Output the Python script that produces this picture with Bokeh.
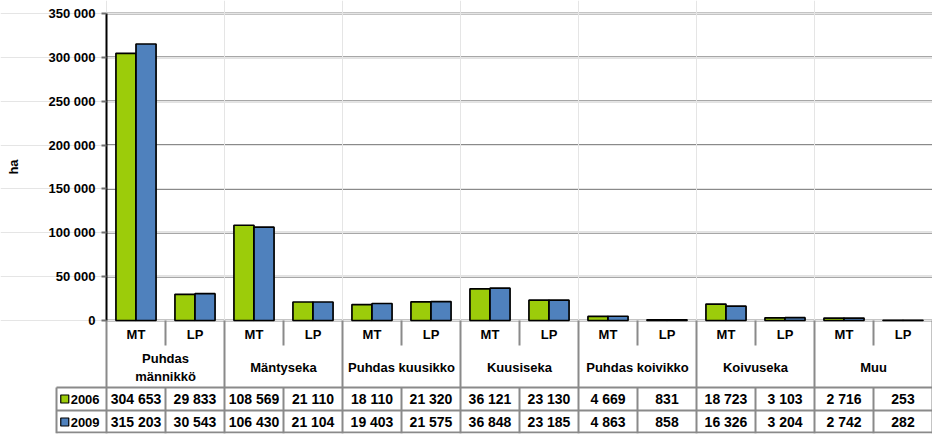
from bokeh.plotting import figure
from bokeh.models import Range1d, LinearAxis, FixedTicker, CustomJSTickFormatter, ColumnDataSource
from bokeh.core.properties import value
from bokeh.embed import file_html
from bokeh.resources import INLINE

# ---- data ----
groups = ["Puhdas\nmännikkö", "Mäntyseka", "Puhdas kuusikko", "Kuusiseka",
          "Puhdas koivikko", "Koivuseka", "Muu"]
site_types = ["MT", "LP"]
years = ["2006", "2009"]
ha_2006 = [304653, 29833, 108569, 21110, 18110, 21320, 36121, 23130,
           4669, 831, 18723, 3103, 2716, 253]
ha_2009 = [315203, 30543, 106430, 21104, 19403, 21575, 36848, 23185,
           4863, 858, 16326, 3204, 2742, 282]
y_ticks = [0, 50000, 100000, 150000, 200000, 250000, 300000, 350000]

# ---- style / layout ----
GREEN = "#9ccc0a"
BLUE = "#4f81bd"
GRID = "#8a8a8a"
FONT = "Liberation Sans"

n = len(ha_2006)
LEFT_W = 106 / 59                 # space left of the y axis (in column units)
LEG_W = 50 / 59                   # width of the legend column (in column units)
FRAME_H = 433                     # frame height in px (frame starts at top of canvas)
TOP_PX = 13                       # px where the top tick sits
ZERO_PX = 320                     # px where value 0 sits
Y_MAX = y_ticks[-1]
UPP = Y_MAX / (ZERO_PX - TOP_PX)  # value units per pixel
Y_TOP = Y_MAX + TOP_PX * UPP
Y_BOT = -(FRAME_H - ZERO_PX) * UPP

p = figure(width=932, height=434,
           x_range=Range1d(-LEFT_W, n), y_range=Range1d(Y_BOT, Y_TOP),
           output_backend="svg", toolbar_location=None,
           x_axis_location=None, y_axis_location=None,
           min_border_left=0, min_border_right=0, min_border_top=0, min_border_bottom=1,
           outline_line_color=None, background_fill_color="white")
p.extra_y_ranges = {"tbl": Range1d(FRAME_H, 0)}

# y axis fixed at x = 0
yax = LinearAxis(fixed_location=0, bounds=(0, Y_MAX),
                 ticker=FixedTicker(ticks=y_ticks),
                 formatter=CustomJSTickFormatter(
                     code="return tick.toString().replace(/\\B(?=(\\d{3})+(?!\\d))/g, ' ');"),
                 axis_label="ha")
yax.axis_line_color = "black"
yax.axis_line_width = 2
yax.major_tick_out = 5
yax.major_tick_in = 0
yax.major_tick_line_color = "#707070"
yax.major_tick_line_width = 2
yax.minor_tick_out = 0
yax.minor_tick_in = 0
yax.major_label_standoff = 6
yax.major_label_text_font = FONT
yax.major_label_text_font_style = "bold"
yax.major_label_text_font_size = "13px"
yax.major_label_text_color = "black"
yax.axis_label_text_font = FONT
yax.axis_label_text_font_style = "bold"
yax.axis_label_text_font_size = "13px"
yax.axis_label_text_color = "black"
yax.axis_label_standoff = 25
p.add_layout(yax, "left")

# horizontal gridlines (from y axis to right edge)
p.segment(x0=[0] * len(y_ticks), y0=y_ticks, x1=[n] * len(y_ticks), y1=y_ticks,
          line_color=GRID, line_width=2, level="underlay")

# bars
xc = [i + 0.5 for i in range(n)]
src = ColumnDataSource(dict(
    x06=[x - 0.17 for x in xc], x09=[x + 0.17 for x in xc],
    v06=ha_2006, v09=ha_2009))
p.vbar(x="x06", top="v06", bottom=0, width=0.34, source=src,
       fill_color=GREEN, line_color="black", line_width=1.7)
p.vbar(x="x09", top="v09", bottom=0, width=0.34, source=src,
       fill_color=BLUE, line_color="black", line_width=1.7)

# ---- table (y in pixels from top, "tbl" range) ----
ROW_SUB = (ZERO_PX, 345)
ROW_D1 = (387, 410)
ROW_D2 = (410, 433)

tx0, ty0, tx1, ty1 = [], [], [], []
for yy in (ROW_D1[0], ROW_D2[0], ROW_D2[1] - 1):
    tx0.append(-LEG_W); tx1.append(n); ty0.append(yy); ty1.append(yy)
for g in range(len(groups) + 1):
    xx = g * len(site_types)
    tx0.append(xx); tx1.append(xx); ty0.append(ZERO_PX); ty1.append(FRAME_H)
for g in range(len(groups)):
    xx = g * len(site_types) + 1
    for (a, b) in (ROW_SUB, (ROW_D1[0], FRAME_H)):
        tx0.append(xx); tx1.append(xx); ty0.append(a); ty1.append(b)
tx0.append(-LEG_W); tx1.append(-LEG_W); ty0.append(ROW_D1[0]); ty1.append(FRAME_H)
p.segment(x0=tx0, y0=ty0, x1=tx1, y1=ty1, line_color=GRID, line_width=2,
          y_range_name="tbl")

def fmt(v):
    return f"{v:,}".replace(",", " ")

common = dict(text_font=value(FONT), text_font_style="bold", text_color="black",
              text_align="center", text_baseline="middle", y_range_name="tbl")

p.text(x=xc, y=[sum(ROW_SUB) / 2 + 1] * n,
       text=[site_types[i % len(site_types)] for i in range(n)],
       text_font_size="13px", **common)
p.text(x=[g * len(site_types) + 1 for g in range(len(groups))],
       y=[(ROW_SUB[1] + ROW_D1[0]) / 2 + 1] * len(groups), text=groups,
       text_font_size="13px", text_line_height=1.15, **common)
p.text(x=xc, y=[sum(ROW_D1) / 2] * n, text=[fmt(v) for v in ha_2006],
       text_font_size="14px", **common)
p.text(x=xc, y=[sum(ROW_D2) / 2] * n, text=[fmt(v) for v in ha_2009],
       text_font_size="14px", **common)

# legend keys in the table
leg_y = [sum(ROW_D1) / 2, sum(ROW_D2) / 2]
p.scatter(x=[-LEG_W + 0.14] * 2, y=leg_y, marker="square", size=8,
          fill_color=[GREEN, BLUE], line_color="black", line_width=1.2,
          y_range_name="tbl")
p.text(x=[-LEG_W + 0.24] * 2, y=leg_y, text=years, text_font_size="13px",
       text_font=value(FONT), text_font_style="bold", text_color="black",
       text_align="left", text_baseline="middle", y_range_name="tbl")

open("out.html", "w").write(file_html(p, INLINE))
